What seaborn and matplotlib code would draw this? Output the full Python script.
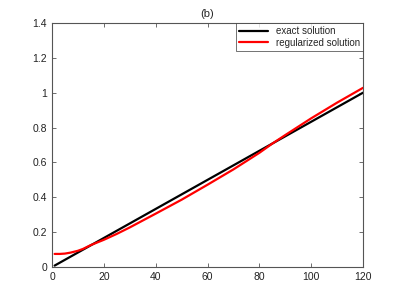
import matplotlib
matplotlib.use("Agg")
import matplotlib.pyplot as plt
import seaborn as sns
import pandas as pd

# values
exact_x = [1, 120]
exact_y = [0.008, 1.0]
reg_x = [1, 3, 5, 7, 10, 12, 15, 20, 25, 30, 40, 50, 60, 70, 80, 85, 90, 100, 110, 120]
reg_y = [0.075, 0.075, 0.077, 0.082, 0.093, 0.104, 0.126, 0.156, 0.19, 0.227,
         0.306, 0.386, 0.472, 0.560, 0.655, 0.708, 0.757, 0.853, 0.943, 1.028]
xticks = [0, 20, 40, 60, 80, 100, 120]
yticks = [0, 0.2, 0.4, 0.6, 0.8, 1, 1.2, 1.4]
ytick_labels = ["0", "0.2", "0.4", "0.6", "0.8", "1", "1.2", "1.4"]

sns.set_style("white")
plt.rcParams["font.family"] = ["Liberation Sans", "DejaVu Sans"]

df = pd.concat([
    pd.DataFrame({"x": exact_x, "y": exact_y, "series": "exact solution"}),
    pd.DataFrame({"x": reg_x, "y": reg_y, "series": "regularized solution"}),
])

fig = plt.figure(figsize=(4.01, 3.01), dpi=100)
ax = fig.add_axes([52 / 401, 34 / 301, 311 / 401, 244 / 301])
sns.lineplot(data=df, x="x", y="y", hue="series", sort=False,
             palette={"exact solution": "black", "regularized solution": "#ff0000"},
             linewidth=1.6, ax=ax)

ax.set_xlim(0, 120)
ax.set_ylim(0, 1.4)
ax.set_xticks(xticks)
ax.set_yticks(yticks)
ax.set_yticklabels(ytick_labels)
ax.tick_params(direction="in", length=3, labelsize=7.5, colors="#555555",
               labelcolor="#222222", width=0.6,
               bottom=True, left=True, top=True, right=True)
for s in ax.spines.values():
    s.set_color("#555555")
    s.set_linewidth(0.8)
ax.set_xlabel("")
ax.set_ylabel("")
ax.set_title("(b)", fontsize=8, pad=4)

leg = ax.legend(loc="upper right", fontsize=7, frameon=True, fancybox=False,
                borderaxespad=0, handlelength=3, borderpad=0.3, labelspacing=0.2)
leg.get_frame().set_edgecolor("#333333")
leg.get_frame().set_linewidth(0.6)

plt.savefig("out.png", dpi=100)
